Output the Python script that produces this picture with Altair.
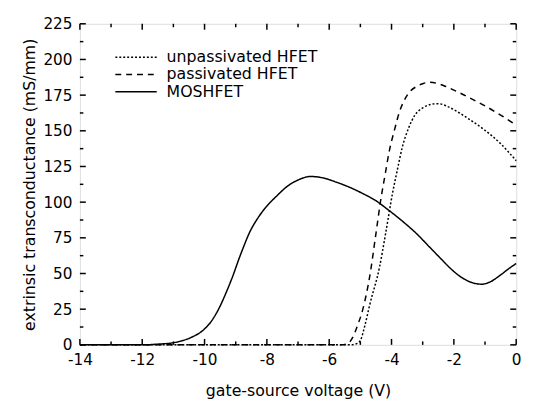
import altair as alt
import pandas as pd

# ---- data ----
names = ["unpassivated HFET", "passivated HFET", "MOSHFET"]

mos_v = [-14, -12, -11.5, -11, -10.7, -10.4, -10.06, -9.8, -9.55, -9.3, -9.08, -8.9, -8.76,
         -8.55, -8.3, -8.03, -7.7, -7.35, -7.0, -6.6, -6.2, -5.77, -5.3, -4.92, -4.5, -4.19,
         -3.56, -3.2, -2.8, -2.4, -2.08, -1.7, -1.4, -1.1, -0.8, -0.5, -0.2, 0]
mos_gm = [0, 0, 0.5, 1.5, 3, 5.5, 10, 16, 25, 37, 49, 60, 68,
          79, 88.5, 96.5, 104, 111, 115.5, 118, 117, 114, 110, 106, 101, 96,
          85, 78, 69, 60, 53, 46.5, 43.5, 42.5, 44.5, 49, 54, 57]

pas_v = [-14, -5.6, -5.4, -5.25, -5.1, -4.92, -4.7, -4.5, -4.35, -4.2, -4.07, -3.9, -3.75, -3.6,
         -3.43, -3.2, -3.0, -2.8, -2.5, -2.2, -1.8, -1.4, -1.0, -0.5, 0]
pas_gm = [0, 0, 1, 5, 13, 25, 48, 78, 101, 120, 136, 151, 163, 171,
          177, 181, 183, 184, 183, 180.5, 176.5, 172, 167.5, 161, 154]

unp_v = [-14, -5.3, -5.1, -5.0, -4.85, -4.7, -4.38, -4.19, -3.97, -3.8, -3.66, -3.45, -3.25, -3.0,
         -2.75, -2.49, -2.2, -1.86, -1.5, -1.04, -0.5, 0]
unp_gm = [0, 0, 1, 3, 14, 28, 55, 78, 106, 124, 138, 152, 161, 166,
          168.5, 169, 167, 163, 158, 151, 141, 129]

x_major = [-14, -12, -10, -8, -6, -4, -2, 0]
x_minor = [-13, -11, -9, -7, -5, -3, -1]
y_major = [0, 25, 50, 75, 100, 125, 150, 175, 200, 225]
y_minor = [12.5, 37.5, 62.5, 87.5, 112.5, 137.5, 162.5, 187.5, 212.5]

dashes = [[2, 2], [6, 5], [1, 0]]

rows = []
for name, vs, gs in [(names[0], unp_v, unp_gm), (names[1], pas_v, pas_gm), (names[2], mos_v, mos_gm)]:
    for v, g in zip(vs, gs):
        rows.append({"series": name, "v": v, "gm": g})
df = pd.DataFrame(rows)

FONT = "DejaVu Sans"
W, H = 443, 326

x_scale = alt.Scale(domain=[-14, 0], nice=False, zero=False)
y_scale = alt.Scale(domain=[0, 225], nice=False, zero=False)

x_axis = alt.Axis(values=x_major, grid=False, ticks=False, domain=False,
                  labelExpr="'' + datum.value", labelFont=FONT, labelFontSize=15.5,
                  labelColor="black", labelPadding=8, labelFlush=False, labelOverlap=False,
                  title="gate-source voltage (V)", titleFont=FONT, titleFontSize=16,
                  titleFontWeight="normal", titleColor="black", titleY=51,
                  titleBaseline="alphabetic")
y_axis = alt.Axis(values=y_major, grid=False, ticks=False, domain=False,
                  labelFont=FONT, labelFontSize=15.5, labelColor="black", labelPadding=8,
                  labelFlush=False, labelOverlap=False,
                  title="extrinsic transconductance (mS/mm)", titleFont=FONT, titleFontSize=16,
                  titleFontWeight="normal", titleColor="black", titleX=-51, titleY=H / 2,
                  titleBaseline="middle")

lines = alt.Chart(df).mark_line(color="black", strokeWidth=1.5, interpolate="monotone").encode(
    x=alt.X("v:Q", scale=x_scale, axis=x_axis),
    y=alt.Y("gm:Q", scale=y_scale, axis=y_axis),
    strokeDash=alt.StrokeDash(
        "series:N", title=None,
        scale=alt.Scale(domain=names, range=dashes),
        legend=alt.Legend(orient="none", legendX=49, legendY=26,
                          symbolType="M-4.2,0H4.2",
                          symbolSize=100, symbolStrokeWidth=1.5, symbolStrokeColor="black",
                          labelFont=FONT, labelFontSize=16, labelColor="black",
                          labelOffset=23, rowPadding=1.5, padding=0),
    ),
)

xmaj = pd.DataFrame({"v": x_major})
xmin = pd.DataFrame({"v": x_minor})
ymaj = pd.DataFrame({"gm": y_major})
ymin = pd.DataFrame({"gm": y_minor})

def xticks(data, length):
    base = alt.Chart(data).mark_rule(color="black", strokeWidth=1.5)
    bottom = base.encode(x=alt.X("v:Q", scale=x_scale, axis=x_axis),
                         y=alt.value(H), y2=alt.value(H - length))
    top = base.encode(x=alt.X("v:Q", scale=x_scale, axis=x_axis),
                      y=alt.value(0), y2=alt.value(length))
    return bottom + top

def yticks(data, length):
    base = alt.Chart(data).mark_rule(color="black", strokeWidth=1.5)
    left = base.encode(y=alt.Y("gm:Q", scale=y_scale, axis=y_axis),
                       x=alt.value(0), x2=alt.value(length))
    right = base.encode(y=alt.Y("gm:Q", scale=y_scale, axis=y_axis),
                        x=alt.value(W), x2=alt.value(W - length))
    return left + right

chart = alt.layer(
    lines,
    xticks(xmaj, 6), xticks(xmin, 3.5),
    yticks(ymaj, 6), yticks(ymin, 3.5),
).properties(
    width=W, height=H,
    autosize=alt.AutoSizeParams(type="none"),
    padding={"left": 73, "top": 13, "right": 12, "bottom": 55},
).configure_view(
    stroke="black", strokeWidth=1.5
).configure(background="white")

chart.save("out.html", embed_options={"renderer": "svg", "actions": False})
